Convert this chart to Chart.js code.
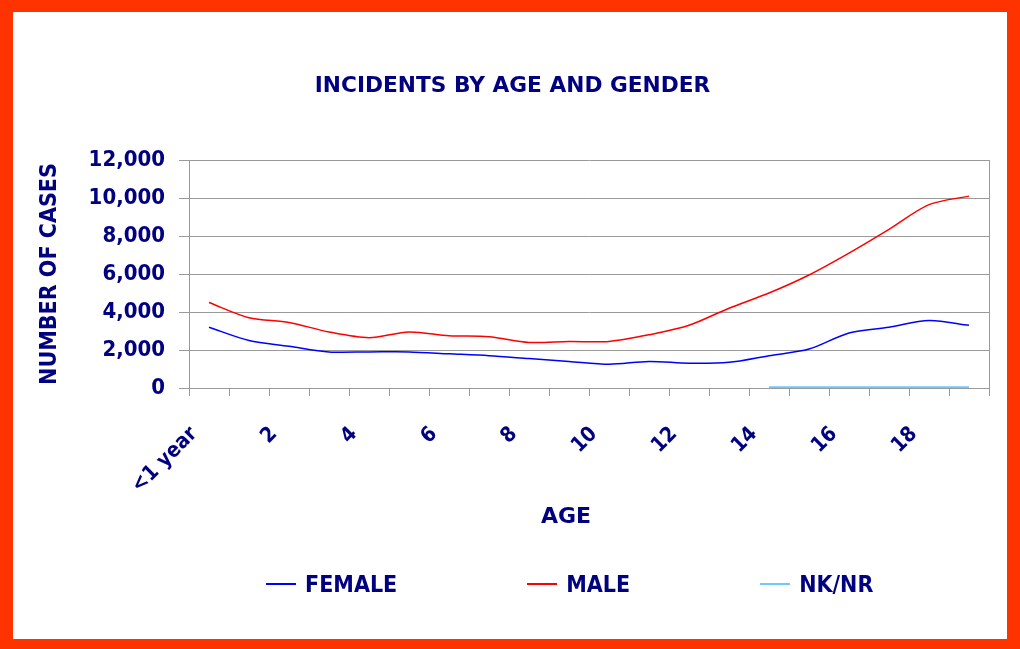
<!DOCTYPE html>
<html>
<head>
<meta charset="utf-8">
<script src="https://cdn.jsdelivr.net/npm/chart.js"></script>
<style>
  html, body { margin: 0; padding: 0; background: #fff; }
  #frame {
    position: relative;
    width: 994px; height: 627px;
    border-style: solid; border-color: #ff3300;
    border-width: 12px 13px 10px 13px;
  }
  canvas { display: block; }
  #legend {
    position: absolute; left: 253px; top: 558px;
    margin: 0; padding: 0; list-style: none;
    display: flex; gap: 130px;
    font: bold 23px 'DejaVu Sans Condensed', 'DejaVu Sans', sans-serif;
    color: #000080;
  }
  #legend li { display: flex; align-items: center; height: 28px; }
  #legend .swatch { width: 30px; height: 2px; margin-right: 9px; }
</style>
</head>
<body>
<div id="frame">
  <canvas id="chart" width="994" height="627"></canvas>
  <ul id="legend"></ul>
</div>
<script>
// ages on the x axis
var ages = ["<1 year", "1", "2", "3", "4", "5", "6", "7", "8", "9",
            "10", "11", "12", "13", "14", "15", "16", "17", "18", "19"];

// number of cases per age
var female = [3200, 2500, 2200, 1900, 1900, 1900, 1800, 1700, 1550, 1400,
              1250, 1400, 1300, 1350, 1700, 2050, 2900, 3200, 3550, 3300];
var male   = [4500, 3700, 3450, 2950, 2650, 2950, 2750, 2700, 2400, 2450,
              2450, 2800, 3300, 4200, 5000, 5950, 7100, 8350, 9650, 10100];
var nknr   = [null, null, null, null, null, null, null, null, null, null,
              null, null, null, null, 40, 40, 40, 40, 40, 40];

var yMin = 0, yMax = 12000, yStep = 2000;

var navy = "#000080";
var famCond = "'DejaVu Sans Condensed', 'DejaVu Sans', sans-serif";
var famWide = "'DejaVu Sans', sans-serif";
var gridGrey = "#9a9a9a";

// legend built as a html list from the chart's own legend items
var htmlLegend = {
  id: "htmlLegend",
  afterUpdate: function(chart) {
    var ul = document.getElementById("legend");
    ul.innerHTML = "";
    var items = chart.options.plugins.legend.labels.generateLabels(chart);
    items.forEach(function(item) {
      var li = document.createElement("li");
      var sw = document.createElement("span");
      sw.className = "swatch";
      sw.style.background = item.strokeStyle;
      var txt = document.createElement("span");
      txt.textContent = item.text;
      li.appendChild(sw);
      li.appendChild(txt);
      ul.appendChild(li);
    });
  }
};

var ctx = document.getElementById("chart");

var data = {
  labels: ages,
  datasets: [
    {
      label: "FEMALE",
      data: female,
      borderColor: "#0000ff",
      backgroundColor: "#0000ff",
      borderWidth: 1.5,
      pointRadius: 0,
      tension: 0.3,
      fill: false
    },
    {
      label: "MALE",
      data: male,
      borderColor: "#ff0000",
      backgroundColor: "#ff0000",
      borderWidth: 1.5,
      pointRadius: 0,
      tension: 0.3,
      fill: false
    },
    {
      label: "NK/NR",
      data: nknr,
      borderColor: "#6cc8ff",
      backgroundColor: "#6cc8ff",
      borderWidth: 2,
      pointRadius: 0,
      tension: 0.3,
      fill: false
    }
  ]
};

var options = {
  responsive: false,
  animation: false,
  devicePixelRatio: 1,
  layout: { padding: { left: 23, right: 18, top: 0, bottom: 107 } },
  plugins: {
    title: {
      display: true,
      text: "INCIDENTS BY AGE AND GENDER",
      color: navy,
      font: { family: famWide, size: 21.7, weight: "bold" },
      padding: { top: 61, bottom: 61 }
    },
    legend: { display: false },
    tooltip: { enabled: false }
  },
  scales: {
    x: {
      offset: true,
      grid: { drawOnChartArea: false, color: gridGrey, tickLength: 8, offset: true },
      border: { color: gridGrey },
      ticks: {
        autoSkip: false,
        minRotation: 45,
        maxRotation: 45,
        color: navy,
        padding: 26,
        labelOffset: -15,
        font: { family: famCond, size: 21, weight: "bold" },
        callback: function(value, index) {
          return index % 2 === 0 ? ages[index] : "";
        }
      },
      title: {
        display: true,
        text: "AGE\u00a0\u00a0\u00a0\u00a0\u00a0\u00a0",
        color: navy,
        font: { family: famWide, size: 22, weight: "bold" },
        padding: { top: 0, bottom: 2 }
      },
      afterFit: function(scale) {
        scale.height = 144;
        scale.paddingLeft = 0;
        scale.paddingRight = 0;
      }
    },
    y: {
      min: yMin,
      max: yMax,
      ticks: {
        stepSize: yStep,
        color: navy,
        padding: 14,
        font: { family: famCond, size: 22, weight: "bold" }
      },
      grid: { color: gridGrey, tickLength: 10 },
      border: { color: gridGrey },
      title: {
        display: true,
        text: "NUMBER OF CASES",
        color: navy,
        font: { family: famCond, size: 23, weight: "bold" },
        padding: { top: 0, bottom: 0 }
      },
      afterFit: function(scale) { scale.width = 153; }
    },
    y2: {
      position: "right",
      ticks: { display: false },
      grid: { display: false },
      border: { color: gridGrey },
      afterFit: function(scale) { scale.width = 0; }
    }
  }
};

var chart = new Chart(ctx, {
  type: "line",
  data: data,
  options: options,
  plugins: [htmlLegend]
});
</script>
</body>
</html>
